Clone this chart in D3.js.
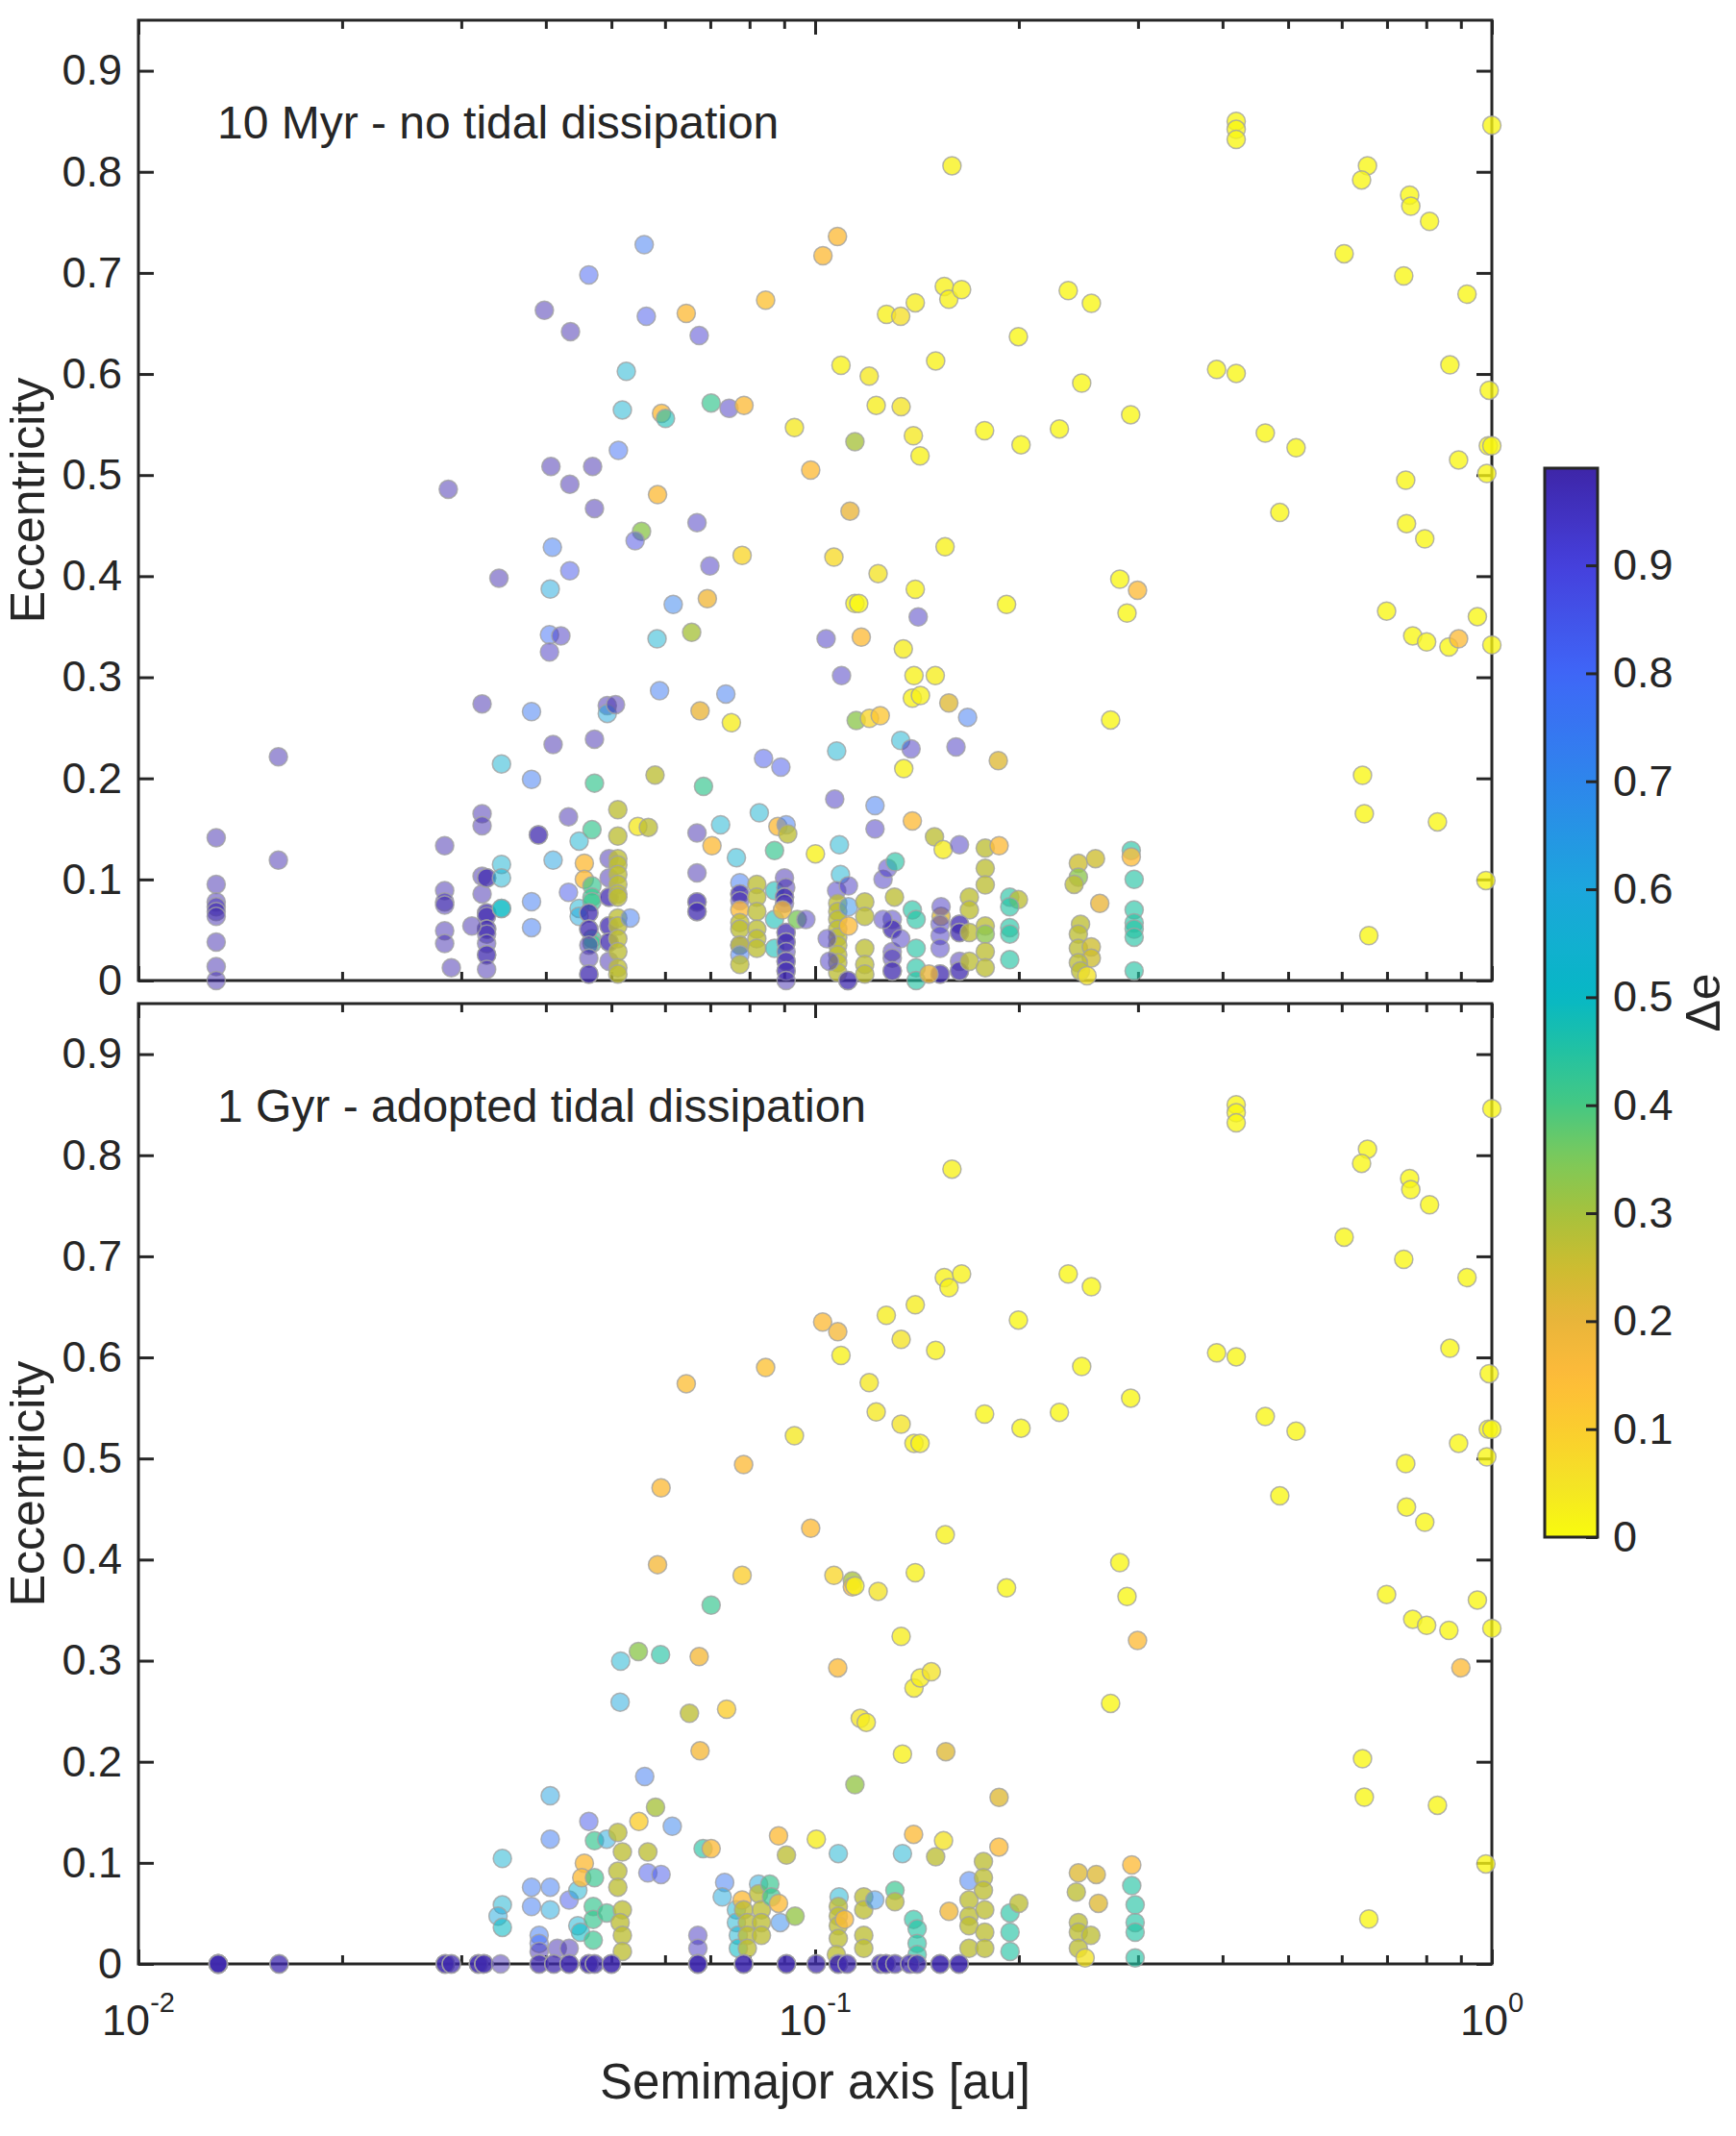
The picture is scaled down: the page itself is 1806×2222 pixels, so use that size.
<!DOCTYPE html>
<html><head><meta charset="utf-8">
<script src="https://cdn.jsdelivr.net/npm/d3@7"></script>
<style>
body{margin:0;background:#fff;}
svg{display:block;}
text{font-family:"Liberation Sans",Arial,Helvetica,sans-serif;fill:#262626;}
</style>
</head><body>
<svg id="c" width="1806" height="2222"></svg>
<script>
// ---------------- DATA ----------------
const panelTitles = ["10 Myr - no tidal dissipation", "1 Gyr - adopted tidal dissipation"];
const yLabel = "Eccentricity";
const xLabel = "Semimajor axis [au]";
const cbarLabel = "\u0394e";
const yTicks = [0, 0.1, 0.2, 0.3, 0.4, 0.5, 0.6, 0.7, 0.8, 0.9];
const cbarTicks = [0, 0.1, 0.2, 0.3, 0.4, 0.5, 0.6, 0.7, 0.8, 0.9];
const xMajor = [0.01, 0.1, 1];
const xMajorExp = ["-2", "-1", "0"];
const xMinor = [0.02,0.03,0.04,0.05,0.06,0.07,0.08,0.09,0.2,0.3,0.4,0.5,0.6,0.7,0.8,0.9];
const deRange = [0, 0.99];
// colormap (reversed parula) over Δe
const deStops  = [0,0.05,0.1,0.15,0.2,0.25,0.3,0.35,0.4,0.45,0.5,0.6,0.7,0.8,0.9,0.99];
const deColors = ["#f9fb0e","#f4e326","#fbcd2e","#fdbb3a","#e9b53a","#cdbc30","#a6c23c","#7cc95a","#45c883","#22c2a2","#07b8c4","#1ca6dc","#2e86ec","#3f66f7","#4540dc","#3e26a8"];

// planets identical in both panels: [a (au), e, Δe]
const sharedPts = [
[1.0,0.846,0.01],[0.419,0.850,0.01],[0.419,0.842,0.01],[0.419,0.832,0.01],
[0.655,0.806,0.01],[0.642,0.792,0.01],[0.756,0.777,0.01],[0.759,0.766,0.01],[0.809,0.751,0.01],
[0.605,0.719,0.01],[0.741,0.697,0.01],[0.919,0.679,0.01],[0.2366,0.6825,0.01],[0.256,0.670,0.01],
[0.1997,0.637,0.01],[0.2477,0.591,0.01],[0.392,0.6045,0.01],[0.419,0.6006,0.01],[0.867,0.609,0.01],
[0.991,0.584,0.01],[0.2926,0.5597,0.01],[0.2296,0.5457,0.01],[0.2015,0.530,0.01],[0.178,0.544,0.01],
[0.4626,0.5416,0.01],[0.5137,0.527,0.01],[0.988,0.529,0.01],[1.0,0.529,0.01],[0.893,0.515,0.01],
[0.983,0.5016,0.01],[0.746,0.495,0.01],[0.486,0.463,0.01],[0.748,0.452,0.01],[0.796,0.437,0.01],
[0.282,0.397,0.01],[0.289,0.3635,0.01],[0.1918,0.372,0.01],[0.699,0.3655,0.01],[0.952,0.36,0.01],
[0.764,0.341,0.01],[0.801,0.335,0.01],[0.864,0.330,0.01],[1.0,0.332,0.01],[0.2733,0.2578,0.01],
[0.644,0.203,0.01],[0.648,0.165,0.01],[0.831,0.157,0.01],[0.658,0.0445,0.01],[0.98,0.099,0.01]
];

// top panel only (10 Myr)
const topPts = [
[0.0287,0.486,0.98],[0.0341,0.398,0.98],[0.1593,0.806,0.02],[0.1079,0.736,0.15],[0.1027,0.717,0.15],
[0.0559,0.728,0.75],[0.0463,0.698,0.82],[0.0398,0.663,0.98],[0.0435,0.642,0.98],[0.0563,0.657,0.85],
[0.0645,0.660,0.15],[0.0674,0.638,0.92],[0.0845,0.673,0.13],[0.1275,0.659,0.02],[0.1338,0.657,0.06],
[0.1406,0.6705,0.03],[0.1552,0.6867,0.02],[0.1576,0.674,0.02],[0.1646,0.6835,0.02],[0.1092,0.6086,0.02],
[0.1202,0.5978,0.04],[0.1507,0.613,0.02],[0.0526,0.6026,0.55],[0.0519,0.5645,0.55],[0.0593,0.561,0.15],
[0.0601,0.556,0.48],[0.0702,0.5714,0.42],[0.0746,0.566,0.95],[0.0785,0.569,0.15],[0.0932,0.547,0.04],
[0.1231,0.569,0.03],[0.134,0.5676,0.05],[0.1397,0.539,0.04],[0.1429,0.519,0.02],[0.1145,0.533,0.3],
[0.0985,0.505,0.15],[0.0512,0.5245,0.78],[0.0407,0.5086,0.98],[0.0469,0.5086,0.98],[0.0434,0.491,0.98],
[0.0472,0.467,0.98],[0.0585,0.4806,0.15],[0.0669,0.453,0.95],[0.0554,0.4444,0.33],[0.0542,0.435,0.88],
[0.1126,0.4644,0.2],[0.078,0.4206,0.08],[0.1066,0.4188,0.07],[0.1239,0.4026,0.05],[0.1556,0.429,0.02],
[0.0699,0.41,0.95],[0.0409,0.4286,0.75],[0.0434,0.4054,0.85],[0.0406,0.3873,0.6],[0.0617,0.372,0.72],
[0.0693,0.3778,0.18],[0.1406,0.387,0.02],[0.1145,0.373,0.01],[0.116,0.373,0.01],[0.142,0.3597,0.95],
[0.1038,0.338,0.95],[0.117,0.3397,0.15],[0.0657,0.3444,0.3],[0.0584,0.338,0.55],[0.0405,0.342,0.78],
[0.0421,0.341,0.95],[0.0405,0.325,0.95],[0.135,0.328,0.03],[0.1094,0.3016,0.95],[0.14,0.3016,0.02],
[0.1505,0.3016,0.03],[0.2995,0.386,0.15],[0.893,0.338,0.15],
[0.01303,0.1413,0.98],[0.01303,0.0952,0.98],[0.01303,0.0778,0.98],[0.01303,0.073,0.98],[0.01303,0.0683,0.98],
[0.01303,0.0635,0.98],[0.01303,0.0381,0.98],[0.01303,0.0137,0.98],[0.01303,0.0,0.98],
[0.0161,0.2213,0.98],[0.0161,0.119,0.98],
[0.02835,0.1334,0.98],[0.02835,0.0889,0.98],[0.02835,0.0778,0.98],[0.02835,0.0746,0.98],[0.02835,0.0492,0.98],
[0.02835,0.0365,0.98],[0.029,0.0127,0.98],
[0.0322,0.2737,0.98],[0.0322,0.165,0.98],[0.0322,0.153,0.98],[0.0322,0.1032,0.98],[0.0322,0.0857,0.98],
[0.0327,0.1016,0.98],[0.0327,0.1016,0.98],[0.0327,0.0667,0.98],[0.0327,0.0667,0.98],[0.0327,0.0635,0.98],
[0.0327,0.0508,0.98],[0.0327,0.0508,0.98],[0.0327,0.046,0.98],[0.0327,0.0365,0.98],[0.0327,0.0254,0.98],
[0.0327,0.0254,0.98],[0.0327,0.011,0.98],[0.0311,0.054,0.98],
[0.0344,0.2143,0.55],[0.0344,0.1149,0.55],[0.0344,0.1016,0.55],[0.0344,0.0714,0.5],[0.0344,0.0714,0.5],
[0.0381,0.266,0.75],[0.0381,0.199,0.75],[0.0381,0.078,0.75],[0.0381,0.0524,0.75],
[0.039,0.144,0.98],[0.039,0.144,0.98],[0.041,0.2334,0.98],[0.041,0.119,0.62],
[0.0432,0.162,0.98],[0.0432,0.0873,0.85],
[0.0448,0.138,0.55],[0.0448,0.0714,0.55],[0.0448,0.0635,0.6],
[0.0456,0.116,0.15],[0.0456,0.1,0.15],
[0.0468,0.1492,0.42],[0.0468,0.0937,0.42],[0.0468,0.0826,0.42],[0.0468,0.078,0.42],[0.0468,0.0413,0.42],[0.0468,0.0365,0.42],
[0.0463,0.0667,0.98],[0.0463,0.0667,0.98],[0.0463,0.0508,0.98],[0.0463,0.0508,0.98],[0.0463,0.035,0.98],
[0.0463,0.0222,0.98],[0.0463,0.0064,0.98],[0.0463,0.0064,0.98],
[0.0472,0.2388,0.98],[0.0472,0.1953,0.42],
[0.0493,0.272,0.98],[0.0493,0.2642,0.6],[0.0507,0.273,0.98],
[0.0496,0.1206,0.98],[0.0496,0.1016,0.98],[0.0496,0.0826,0.98],[0.0496,0.0826,0.98],[0.0496,0.054,0.98],
[0.0496,0.054,0.98],[0.0496,0.0381,0.98],[0.0496,0.0381,0.98],[0.0496,0.019,0.98],
[0.0511,0.169,0.27],[0.0511,0.1429,0.27],[0.0511,0.1206,0.27],[0.0511,0.1143,0.27],[0.0511,0.1048,0.27],
[0.0511,0.0952,0.27],[0.0511,0.0857,0.27],[0.0511,0.0826,0.27],[0.0511,0.0619,0.27],[0.0511,0.054,0.27],
[0.0511,0.0413,0.27],[0.0511,0.0286,0.27],[0.0511,0.0127,0.27],[0.0511,0.0064,0.27],
[0.0533,0.0619,0.75],[0.0547,0.1524,0.04],[0.0567,0.1515,0.27],[0.058,0.2032,0.27],[0.0589,0.2867,0.75],
[0.0669,0.146,0.98],[0.0669,0.1064,0.98],[0.0669,0.0778,0.98],[0.0669,0.0778,0.98],[0.0669,0.0683,0.98],[0.0669,0.0683,0.98],
[0.0676,0.2667,0.2],[0.0684,0.192,0.42],[0.0704,0.1334,0.15],[0.0725,0.154,0.55],[0.0738,0.2835,0.75],
[0.0752,0.255,0.03],[0.0765,0.1216,0.55],
[0.0774,0.0968,0.75],[0.0774,0.0857,0.98],[0.0774,0.0857,0.98],[0.0774,0.079,0.98],[0.0774,0.0698,0.15],
[0.0774,0.0572,0.27],[0.0774,0.0508,0.27],[0.0774,0.035,0.98],[0.0774,0.035,0.27],[0.0774,0.0254,0.75],[0.0774,0.0159,0.27],
[0.082,0.0952,0.27],[0.082,0.0826,0.27],[0.082,0.0683,0.27],[0.082,0.0508,0.27],[0.082,0.0413,0.27],[0.082,0.0318,0.27],
[0.0827,0.166,0.55],[0.0839,0.2197,0.85],
[0.0871,0.1286,0.42],[0.0871,0.0889,0.48],[0.0871,0.0603,0.48],[0.0871,0.0318,0.48],
[0.0881,0.1524,0.15],[0.0906,0.154,0.75],[0.0911,0.145,0.27],[0.089,0.2111,0.85],
[0.0901,0.1016,0.98],[0.0905,0.092,0.98],[0.0901,0.0826,0.98],[0.0901,0.0826,0.98],[0.0901,0.0762,0.98],
[0.0895,0.0698,0.18],[0.0906,0.0476,0.98],[0.0906,0.0476,0.98],[0.0906,0.0381,0.98],[0.0906,0.0381,0.98],
[0.0906,0.0286,0.98],[0.0906,0.019,0.98],[0.0906,0.019,0.98],[0.0906,0.0095,0.98],[0.0906,0.0095,0.98],[0.0906,0.0,0.98],
[0.0941,0.0603,0.35],[0.0969,0.0603,0.95],[0.1001,0.1254,0.02],
[0.1069,0.1794,0.95],[0.1076,0.227,0.55],[0.1086,0.1343,0.55],[0.109,0.1048,0.55],[0.1076,0.0889,0.95],[0.112,0.0937,0.95],
[0.108,0.0762,0.27],[0.108,0.0683,0.27],[0.108,0.0603,0.27],[0.108,0.0508,0.27],[0.108,0.0429,0.27],
[0.108,0.035,0.27],[0.108,0.0254,0.27],[0.108,0.0175,0.27],[0.108,0.0079,0.27],
[0.112,0.073,0.68],[0.112,0.054,0.15],[0.1042,0.0413,0.95],[0.105,0.019,0.95],[0.1118,0.0,0.98],[0.1118,0.0,0.98],
[0.1184,0.0778,0.27],[0.1184,0.0635,0.27],[0.1184,0.0318,0.27],[0.1184,0.0159,0.27],[0.1184,0.0064,0.27],
[0.1226,0.173,0.75],[0.1226,0.15,0.95],[0.115,0.2572,0.33],[0.1203,0.2594,0.08],[0.1248,0.262,0.12],
[0.1338,0.2375,0.55],[0.1386,0.2292,0.95],[0.1352,0.2096,0.02],[0.1392,0.2794,0.02],[0.1431,0.282,0.02],
[0.1576,0.2746,0.22],[0.168,0.2604,0.75],[0.1615,0.2311,0.95],[0.1865,0.2175,0.22],
[0.126,0.1,0.95],[0.128,0.111,0.95],[0.1313,0.1175,0.45],[0.131,0.0826,0.27],[0.1392,0.1578,0.15],
[0.1501,0.1422,0.27],[0.1546,0.1295,0.03],[0.1634,0.1343,0.95],[0.1784,0.131,0.27],[0.187,0.1334,0.15],
[0.1784,0.111,0.27],[0.1784,0.0946,0.27],[0.169,0.0826,0.27],[0.169,0.0698,0.27],[0.1535,0.0635,0.22],
[0.1535,0.073,0.95],[0.153,0.0556,0.95],[0.153,0.0445,0.95],[0.153,0.0318,0.95],[0.153,0.0064,0.98],[0.153,0.0064,0.98],
[0.1634,0.0556,0.98],[0.1634,0.0556,0.98],[0.1634,0.0476,0.98],[0.1634,0.0476,0.98],[0.1634,0.019,0.98],
[0.1634,0.0095,0.98],[0.1634,0.0095,0.98],
[0.169,0.0476,0.27],[0.169,0.019,0.27],[0.1784,0.054,0.27],[0.1784,0.046,0.33],[0.1784,0.0286,0.27],[0.1784,0.0127,0.27],
[0.13,0.0603,0.95],[0.13,0.0508,0.98],[0.13,0.0508,0.98],[0.13,0.0286,0.98],[0.13,0.0222,0.98],[0.13,0.0095,0.98],[0.13,0.0095,0.98],
[0.126,0.0603,0.95],[0.1338,0.0413,0.95],
[0.1392,0.0698,0.45],[0.141,0.0603,0.45],[0.141,0.0318,0.45],[0.141,0.0127,0.45],[0.141,0.0,0.45],[0.1473,0.0064,0.2],
[0.1939,0.0826,0.45],[0.1997,0.08,0.27],[0.1939,0.073,0.45],[0.1939,0.0524,0.45],[0.1939,0.046,0.45],[0.1939,0.0206,0.45],
[0.2449,0.1159,0.25],[0.2596,0.1206,0.25],[0.2449,0.1022,0.33],[0.2414,0.0952,0.27],[0.2634,0.0762,0.2],
[0.2467,0.0556,0.27],[0.2449,0.046,0.27],[0.2449,0.0318,0.27],[0.2559,0.0333,0.25],[0.2559,0.0222,0.25],
[0.2449,0.0175,0.27],[0.2467,0.0095,0.27],[0.2522,0.0048,0.05],
[0.2932,0.1286,0.45],[0.2932,0.1222,0.15],[0.2961,0.1,0.45],[0.2961,0.0698,0.45],[0.2961,0.0571,0.45],
[0.2961,0.0508,0.45],[0.2961,0.0429,0.45],[0.2961,0.0095,0.45]
];

// bottom panel only (1 Gyr)
const bottomPts = [
[0.1593,0.7863,0.02],[0.1552,0.679,0.02],[0.1646,0.6825,0.02],[0.1577,0.669,0.02],[0.1406,0.652,0.03],
[0.1274,0.6416,0.03],[0.1026,0.635,0.15],[0.108,0.6254,0.17],[0.134,0.6178,0.05],[0.1507,0.607,0.02],
[0.1092,0.602,0.02],[0.0845,0.590,0.13],[0.0645,0.574,0.14],[0.1202,0.575,0.04],[0.1231,0.546,0.04],
[0.134,0.534,0.05],[0.14,0.515,0.02],[0.1429,0.515,0.02],[0.0932,0.5225,0.04],[0.0784,0.494,0.15],
[0.0592,0.471,0.15],[0.0985,0.431,0.15],[0.1557,0.4245,0.02],[0.0585,0.395,0.17],[0.078,0.3844,0.1],
[0.1066,0.3844,0.08],[0.1135,0.379,0.3],[0.1135,0.373,0.15],[0.1145,0.374,0.01],[0.1239,0.3686,0.05],
[0.1406,0.387,0.02],[0.0702,0.355,0.42],[0.9,0.293,0.15],[0.2995,0.32,0.15],
[0.0516,0.2996,0.55],[0.0548,0.309,0.33],[0.0591,0.306,0.45],[0.0515,0.259,0.6],[0.0652,0.248,0.27],
[0.0674,0.304,0.17],[0.074,0.252,0.1],[0.108,0.293,0.15],[0.1166,0.243,0.05],[0.119,0.239,0.03],
[0.1346,0.2076,0.02],[0.140,0.273,0.03],[0.143,0.283,0.03],[0.1485,0.289,0.05],[0.134,0.324,0.03],
[0.156,0.21,0.22],[0.187,0.1647,0.22],[0.1145,0.1774,0.32],
[0.0345,0.1044,0.55],[0.0345,0.0584,0.55],[0.034,0.0473,0.6],[0.0345,0.0362,0.5],
[0.0381,0.0759,0.75],[0.0381,0.0568,0.75],[0.0391,0.0283,0.75],[0.0391,0.0203,0.8],[0.0391,0.0124,0.98],
[0.0406,0.1663,0.62],[0.0406,0.1235,0.75],[0.0406,0.0759,0.75],[0.0406,0.0536,0.6],[0.0416,0.0155,0.98],
[0.0433,0.0632,0.85],[0.0433,0.0155,0.98],[0.0446,0.0727,0.55],[0.0446,0.0378,0.55],[0.045,0.0314,0.5],
[0.0456,0.0997,0.15],[0.0452,0.0854,0.15],[0.0463,0.1409,0.85],
[0.0472,0.1219,0.42],[0.0472,0.0854,0.42],[0.047,0.0568,0.42],[0.047,0.0441,0.42],[0.047,0.0235,0.42],
[0.0492,0.1235,0.6],[0.0492,0.0505,0.42],
[0.0511,0.13,0.27],[0.0519,0.1108,0.27],[0.0511,0.0917,0.27],[0.0511,0.0759,0.27],[0.0519,0.0536,0.27],
[0.0515,0.041,0.27],[0.0519,0.0283,0.27],[0.0519,0.0124,0.27],
[0.0549,0.1409,0.1],[0.0566,0.1108,0.27],[0.056,0.1854,0.75],[0.0566,0.09,0.85],[0.0581,0.155,0.3],
[0.0592,0.0885,0.85],[0.0615,0.1362,0.72],[0.0676,0.2108,0.17],[0.0683,0.114,0.45],[0.0702,0.114,0.15],
[0.0671,0.0283,0.95],[0.0671,0.0155,0.95],
[0.0735,0.0806,0.75],[0.0729,0.0663,0.6],[0.0765,0.0536,0.55],[0.0765,0.041,0.55],[0.077,0.0283,0.55],[0.077,0.0155,0.5],
[0.078,0.0632,0.15],[0.0784,0.0536,0.27],[0.0794,0.041,0.27],[0.0794,0.0283,0.27],[0.0794,0.0155,0.27],
[0.0825,0.079,0.6],[0.0825,0.0695,0.27],[0.0833,0.0536,0.27],[0.0833,0.041,0.27],[0.0833,0.0283,0.27],
[0.0857,0.079,0.42],[0.0862,0.0663,0.42],[0.0883,0.06,0.15],[0.0888,0.041,0.7],[0.0883,0.1267,0.15],
[0.0907,0.1076,0.27],[0.0934,0.0473,0.32],[0.1004,0.1235,0.03],
[0.1082,0.1092,0.55],[0.1085,0.0663,0.55],[0.1082,0.0568,0.27],[0.1082,0.0473,0.27],[0.1082,0.0378,0.27],
[0.1082,0.0251,0.27],[0.1075,0.0092,0.27],[0.1105,0.0441,0.15],
[0.118,0.0663,0.27],[0.118,0.0536,0.27],[0.118,0.0283,0.27],[0.118,0.0155,0.27],
[0.1225,0.0632,0.68],[0.1312,0.0727,0.42],[0.1312,0.0616,0.27],[0.1346,0.1092,0.55],[0.1398,0.1282,0.15],
[0.1398,0.0441,0.45],[0.1415,0.0346,0.45],[0.1415,0.0203,0.45],[0.1415,0.0092,0.45],
[0.1507,0.106,0.27],[0.1548,0.1219,0.05],[0.1577,0.052,0.18],
[0.1688,0.0822,0.75],[0.1688,0.0632,0.27],[0.1688,0.0473,0.27],[0.1688,0.0378,0.27],[0.1688,0.0155,0.27],
[0.1773,0.1013,0.27],[0.1773,0.0854,0.27],[0.1773,0.0727,0.27],[0.1781,0.0536,0.27],[0.1781,0.0314,0.27],[0.1781,0.0155,0.27],
[0.1869,0.1156,0.15],[0.1941,0.0505,0.45],[0.1941,0.0314,0.45],[0.1941,0.0124,0.45],[0.2,0.06,0.27],
[0.2449,0.09,0.22],[0.2603,0.0885,0.22],[0.2432,0.0711,0.27],[0.2622,0.06,0.22],[0.2449,0.041,0.27],
[0.2449,0.0314,0.27],[0.2555,0.0283,0.27],[0.2449,0.0155,0.27],[0.2506,0.006,0.05],
[0.2937,0.098,0.15],[0.2937,0.0774,0.45],[0.2971,0.0584,0.45],[0.2971,0.041,0.45],[0.2971,0.0314,0.45],[0.2971,0.006,0.45]
];

// bottom panel: fully circularised planets (e = 0), semimajor axes (repeats = stacked planets)
const bottomCircA = [
0.01312,0.01312,0.01312,0.01312,0.01312,0.01312,0.01614,0.01614,
0.0284,0.0284,0.0284,0.029,0.029,0.0318,0.0318,0.0318,0.0324,0.0324,0.0324,0.0343,
0.0391,0.0391,0.0411,0.0411,0.0433,0.0433,0.0433,0.0463,0.0463,0.0463,0.0472,0.0472,0.05,0.05,0.05,
0.0671,0.0671,0.0671,0.0671,0.0784,0.0784,0.0784,0.0907,0.0907,0.0907,0.1004,0.1004,
0.1082,0.1082,0.1082,0.1115,0.1115,0.1249,0.1249,0.1273,0.1273,0.1273,0.1312,0.1312,
0.138,0.138,0.1415,0.1415,0.153,0.153,0.153,0.1632,0.1632,0.1632
];
const circDe = 0.98;

// ---------------- DRAW ----------------
const svg = d3.select("#c");
const INK = "#262626";
const x = d3.scaleLog().domain([0.01, 1]).range([144, 1552]);
const color = d3.scaleLinear().domain(deStops).range(deColors).interpolate(d3.interpolateRgb).clamp(true);
const alpha = d => d <= 0.35 ? 0.78 : (d >= 0.55 ? 0.5 : 0.78 - (d - 0.35) / 0.2 * 0.28);

const panels = [
  {top: 21, bottom: 1020, title: panelTitles[0], pts: sharedPts.concat(topPts), xlabels: false},
  {top: 1044, bottom: 2043, title: panelTitles[1],
   pts: sharedPts.concat(bottomPts, bottomCircA.map(a => [a, 0, circDe])), xlabels: true}
];

function styleAxis(g, fs) {
  g.select(".domain").remove();
  g.selectAll(".tick line").attr("stroke", INK).attr("stroke-width", 3);
  g.selectAll(".tick text").attr("font-size", fs).attr("fill", INK)
    .attr("font-family", "Liberation Sans, Arial, Helvetica, sans-serif");
}

panels.forEach(p => {
  const g = svg.append("g");
  const y = d3.scaleLinear().domain([0, 0.95]).range([p.bottom, p.top]);

  const yl = g.append("g").attr("transform", "translate(144,0)")
    .call(d3.axisLeft(y).tickValues(yTicks).tickSize(-16).tickPadding(17)
      .tickFormat(d => d === 0 ? "0" : d3.format(".1f")(d)));
  styleAxis(yl, 45);
  const yr = g.append("g").attr("transform", "translate(1552,0)")
    .call(d3.axisRight(y).tickValues(yTicks).tickSize(-16).tickFormat(""));
  styleAxis(yr, 45);
  [[d3.axisBottom, p.bottom], [d3.axisTop, p.top]].forEach(([ax, yy]) => {
    const a1 = g.append("g").attr("transform", `translate(0,${yy})`)
      .call(ax(x).tickValues(xMajor).tickSize(-15).tickFormat(""));
    styleAxis(a1, 45);
    const a2 = g.append("g").attr("transform", `translate(0,${yy})`)
      .call(ax(x).tickValues(xMinor).tickSize(-9).tickFormat(""));
    styleAxis(a2, 45);
  });

  g.append("rect").attr("x", 144).attr("y", p.top).attr("width", 1552 - 144)
    .attr("height", p.bottom - p.top).attr("fill", "none").attr("stroke", INK).attr("stroke-width", 3);

  g.append("g").selectAll("circle").data(p.pts).join("circle")
    .attr("cx", d => x(d[0])).attr("cy", d => y(d[1])).attr("r", 9.5)
    .attr("fill", d => color(d[2])).attr("fill-opacity", d => alpha(d[2]))
    .attr("stroke", "#a3a3a3").attr("stroke-opacity", 0.8).attr("stroke-width", 1.5);

  g.append("text").attr("x", 226).attr("y", p.top + 123).attr("font-size", 48).attr("fill", "#111")
    .text(p.title);

  g.append("text").attr("transform", `translate(46,${(p.top + p.bottom) / 2}) rotate(-90)`)
    .attr("text-anchor", "middle").attr("font-size", 50).text(yLabel);

  if (p.xlabels) {
    xMajor.forEach((v, i) => {
      const t = g.append("text").attr("x", x(v)).attr("y", p.bottom + 74).attr("text-anchor", "middle")
        .attr("font-size", 45);
      t.append("tspan").text("10");
      t.append("tspan").attr("dy", -24).attr("font-size", 29).text(xMajorExp[i]);
    });
    g.append("text").attr("x", 848).attr("y", p.bottom + 140).attr("text-anchor", "middle")
      .attr("font-size", 51).text(xLabel);
  }
});

// colorbar
const cb = d3.scaleLinear().domain(deRange).range([1599, 487]);
const defs = svg.append("defs");
const grad = defs.append("linearGradient").attr("id", "cbg").attr("x1", 0).attr("y1", 1).attr("x2", 0).attr("y2", 0);
d3.range(0, 65).forEach(i => {
  const t = i / 64;
  grad.append("stop").attr("offset", t).attr("stop-color", color(deRange[0] + t * (deRange[1] - deRange[0])));
});
svg.append("rect").attr("x", 1607).attr("y", cb(deRange[1])).attr("width", 55)
  .attr("height", cb(deRange[0]) - cb(deRange[1])).attr("fill", "url(#cbg)")
  .attr("stroke", INK).attr("stroke-width", 3);
const cba = svg.append("g").attr("transform", "translate(1662,0)")
  .call(d3.axisRight(cb).tickValues(cbarTicks).tickSize(-12).tickPadding(16)
    .tickFormat(d => d === 0 ? "0" : d3.format(".1f")(d)));
styleAxis(cba, 45);
svg.append("text").attr("transform", "translate(1789,1043) rotate(-90)").attr("text-anchor", "middle")
  .attr("font-size", 50).text(cbarLabel);
</script>
</body></html>
